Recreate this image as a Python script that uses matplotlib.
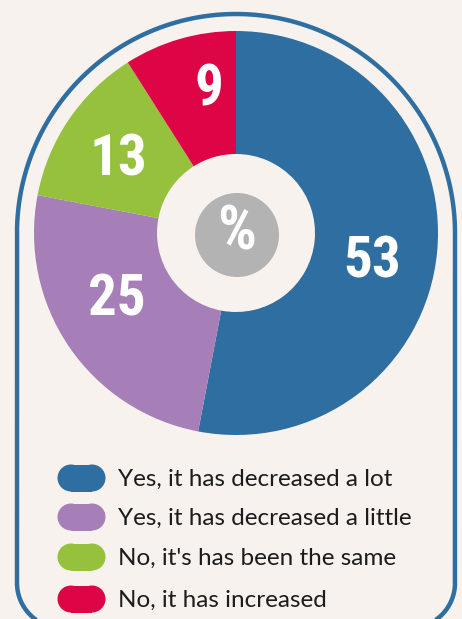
import numpy as np
import matplotlib.pyplot as plt
from matplotlib import font_manager
from matplotlib.path import Path
from matplotlib.patches import PathPatch, Circle

# data
labels = ["Yes, it has decreased a lot", "Yes, it has decreased a little",
          "No, it's has been the same", "No, it has increased"]
values = [53, 25, 13, 9]
colors = ["#2E6EA0", "#A77FB8", "#96C13D", "#DE0546"]

bg = "#F8F2EF"
W, H = 462, 619
cx, cy = 236, 233
r_out, r_in = 202, 79

# pick a narrow bold face for the big numbers
num_font = "DejaVu Sans"
for name in ["Liberation Sans Narrow", "DejaVu Sans Condensed", "Roboto Condensed"]:
    try:
        font_manager.findfont(font_manager.FontProperties(family=name),
                              fallback_to_default=False)
        num_font = name
        break
    except ValueError:
        pass

fig = plt.figure(figsize=(W / 100, H / 100), dpi=100, facecolor=bg)
ax = fig.add_axes([0, 0, 1, 1])
ax.set_facecolor(bg)

# arch shaped border (bottom runs off the page)
R = 219
left, right, bottom, rc = cx - R, cx + R, 628, 45
verts = [(left, bottom - rc), (left, cy)]
t = np.linspace(np.pi, 0, 120)
verts += [(cx + R * np.cos(a), cy - R * np.sin(a)) for a in t]
verts += [(right, bottom - rc)]
t = np.linspace(0, np.pi / 2, 30)
verts += [(right - rc + rc * np.cos(a), bottom - rc + rc * np.sin(a)) for a in t]
t = np.linspace(np.pi / 2, np.pi, 30)
verts += [(left + rc + rc * np.cos(a), bottom - rc + rc * np.sin(a)) for a in t]
verts += [(left, bottom - rc)]
ax.add_patch(PathPatch(Path(verts), facecolor="none", edgecolor="#2E6EA0", lw=3.2))

# donut (y axis flipped -> counterclock=True is clockwise on screen)
ax.pie(values, colors=colors, startangle=-90, counterclock=True,
       radius=r_out, center=(cx, cy), frame=True,
       wedgeprops=dict(width=r_out - r_in, linewidth=0))
ax.set_xlim(0, W)
ax.set_ylim(H, 0)
ax.set_aspect("equal")
ax.axis("off")

label_pos = [(372, 262), (117, 300), (118, 160), (209, 90)]
for (x, y), v in zip(label_pos, values):
    ax.text(x, y, str(v), color="white", fontsize=41, fontweight="bold",
            family=[num_font, "DejaVu Sans"], ha="center", va="center")

ax.add_patch(Circle((cx + 1, 235), 42, color="#B3B3B3", lw=0))
ax.text(cx + 1, 233, "%", color="white", fontsize=44, fontweight="bold",
        family=[num_font, "DejaVu Sans"], ha="center", va="center")

# legend with pill markers
row_y = [478, 517, 557, 599]
for y, lab, c in zip(row_y, labels, colors):
    ax.add_patch(Circle((71, y), 13.5, color=c, lw=0))
    ax.add_patch(Circle((92, y), 13.5, color=c, lw=0))
    ax.add_patch(plt.Rectangle((71, y - 13.5), 21, 27, color=c, lw=0))
    ax.text(118, y + 1, lab, fontsize=17.5, color="#1C1C1C",
            family=["Lato", "DejaVu Sans"], ha="left", va="center")

fig.savefig("out.png", dpi=100, facecolor=bg)
